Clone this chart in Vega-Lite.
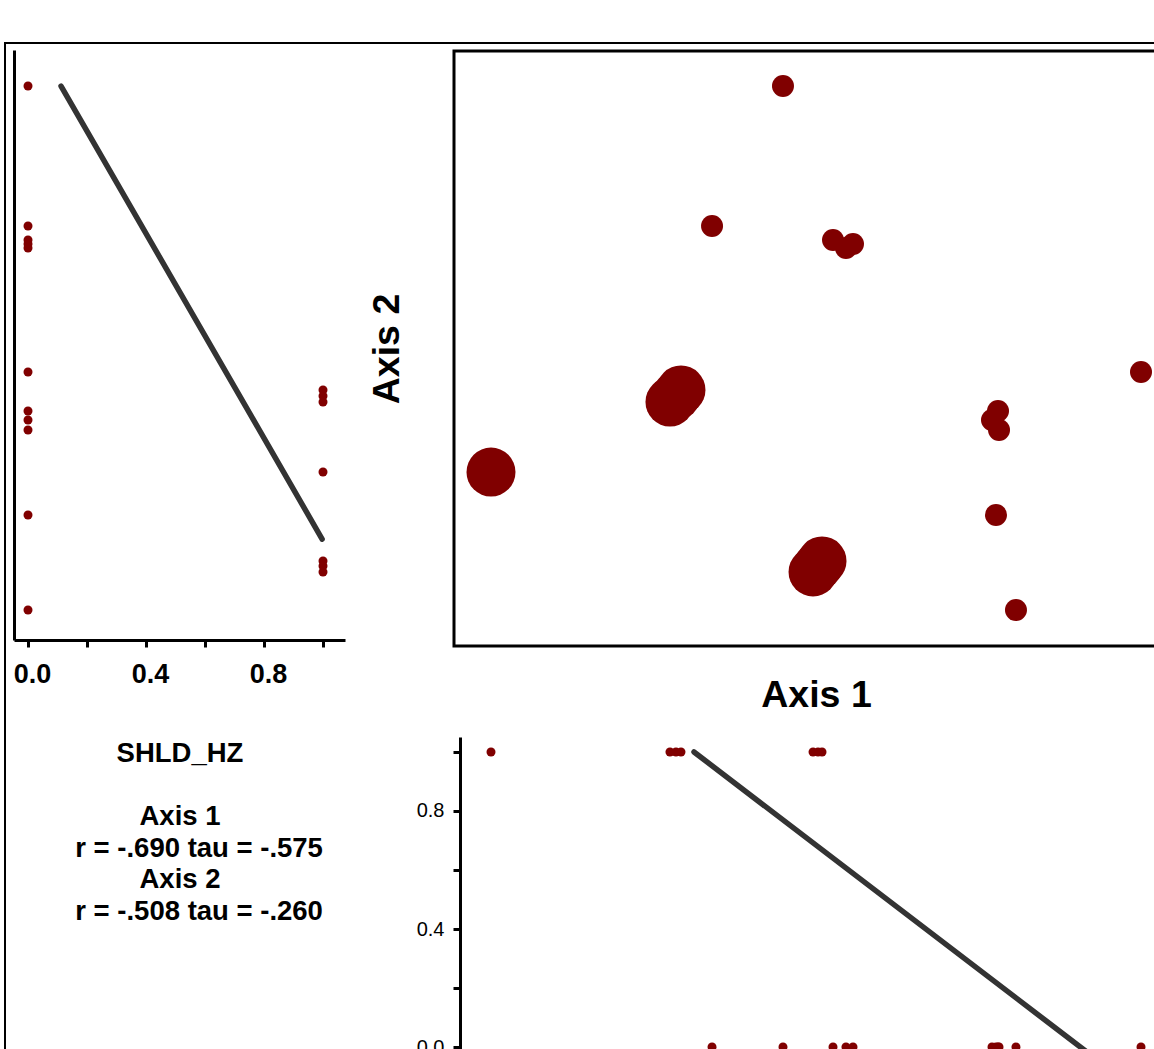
{
  "$schema": "https://vega.github.io/schema/vega-lite/v6.json",
  "width": 1209,
  "height": 1066,
  "autosize": {"type": "none"},
  "padding": {"left": 5, "top": 43, "right": -60, "bottom": -60},
  "background": "white",
  "config": {
    "view": {"stroke": "black", "strokeWidth": 2},
    "font": "Liberation Sans",
    "axis": {"domainColor": "black", "tickColor": "black", "labelColor": "black", "titleColor": "black", "grid": false, "labelFont": "Liberation Sans", "titleFont": "Liberation Sans", "labelFlush": false}
  },
  "datasets": {
    "sites": [
      {"site": 1, "a1": 45.44, "a2": 94.12, "shld": 0},
      {"site": 2, "a1": 35.64, "a2": 70.59, "shld": 0},
      {"site": 3, "a1": 52.35, "a2": 68.24, "shld": 0},
      {"site": 4, "a1": 55.11, "a2": 67.56, "shld": 0},
      {"site": 5, "a1": 54.14, "a2": 66.89, "shld": 0},
      {"site": 6, "a1": 94.89, "a2": 46.05, "shld": 0},
      {"site": 7, "a1": 75.14, "a2": 39.50, "shld": 0},
      {"site": 8, "a1": 74.31, "a2": 37.98, "shld": 0},
      {"site": 9, "a1": 75.28, "a2": 36.30, "shld": 0},
      {"site": 10, "a1": 74.86, "a2": 22.02, "shld": 0},
      {"site": 11, "a1": 77.62, "a2": 6.05, "shld": 0},
      {"site": 12, "a1": 31.35, "a2": 43.03, "shld": 1},
      {"site": 13, "a1": 30.66, "a2": 42.02, "shld": 1},
      {"site": 14, "a1": 29.83, "a2": 41.01, "shld": 1},
      {"site": 15, "a1": 5.11, "a2": 29.24, "shld": 1},
      {"site": 16, "a1": 50.83, "a2": 14.29, "shld": 1},
      {"site": 17, "a1": 50.28, "a2": 13.45, "shld": 1},
      {"site": 18, "a1": 49.59, "a2": 12.44, "shld": 1}
    ],
    "leftLine": [
      {"shld": 0.112, "a2": 94.1},
      {"shld": 0.997, "a2": 17.98}
    ],
    "bottomLine": [
      {"a1": 33.15, "shld": 1.0},
      {"a1": 94.89, "shld": -0.157}
    ]
  },
  "layer": [
    {
      "layer": [
        {
          "data": {"name": "sites"},
          "mark": {"type": "circle", "color": "#800000", "opacity": 1, "size": 81},
          "encoding": {
            "x": {
              "field": "shld", "type": "quantitative",
              "scale": {"domain": [-0.04746, 1.07458], "range": [9, 340], "zero": false, "nice": false},
              "axis": {
                "orient": "bottom", "offset": -469,
                "values": [0, 0.2, 0.4, 0.6, 0.8, 1],
                "labelExpr": "abs(datum.value) < 0.001 || abs(datum.value - 0.4) < 0.001 || abs(datum.value - 0.8) < 0.001 ? format(datum.value, '.1f') : ''",
                "tickSize": 7, "tickWidth": 3, "domainWidth": 3,
                "labelFontSize": 27, "labelFontWeight": "bold", "labelPadding": 14, "labelOffset": 4,
                "title": ["SHLD_HZ", "\u200b\u00a0", "Axis 1", "\u200b\u00a0\u00a0\u00a0\u00a0\u00a0r = -.690 tau = -.575", "Axis 2", "\u200b\u00a0\u00a0\u00a0\u00a0\u00a0r = -.508 tau = -.260"],
                "titleFontSize": 27.5, "titleFontWeight": "bold", "titleLineHeight": 31.7, "titlePadding": 52
              }
            },
            "y": {
              "field": "a2", "type": "quantitative",
              "scale": {"domain": [1.0084, 100.168], "range": [597, 7], "zero": false, "nice": false},
              "axis": {"orient": "left", "offset": -9, "ticks": false, "labels": false, "title": null, "domainWidth": 3}
            }
          }
        },
        {
          "data": {"name": "leftLine"},
          "mark": {"type": "line", "color": "#333333", "strokeWidth": 5.5, "strokeCap": "round"},
          "encoding": {
            "x": {"field": "shld", "type": "quantitative"},
            "y": {"field": "a2", "type": "quantitative"}
          }
        }
      ]
    },
    {
      "layer": [
        {
          "data": {"values": [{}]},
          "mark": {"type": "rect", "fill": "transparent", "stroke": "black", "strokeWidth": 3},
          "encoding": {
            "x": {"datum": 0, "type": "quantitative"},
            "x2": {"datum": 100},
            "y": {"datum": 0, "type": "quantitative"},
            "y2": {"datum": 100}
          }
        },
        {
          "data": {"name": "sites"},
          "mark": {"type": "circle", "color": "#800000", "opacity": 1},
          "encoding": {
            "x": {
              "field": "a1", "type": "quantitative",
              "scale": {"domain": [0, 100], "range": [449, 1173], "zero": false, "nice": false},
              "axis": {"orient": "bottom", "offset": -463, "domain": false, "ticks": false, "labels": false, "title": "Axis 1", "titleFontSize": 37.5, "titleFontWeight": "bold", "titlePadding": 30}
            },
            "y": {
              "field": "a2", "type": "quantitative",
              "scale": {"domain": [0, 100], "range": [603, 8], "zero": false, "nice": false},
              "axis": {"orient": "left", "offset": -449, "domain": false, "ticks": false, "labels": false, "title": "Axis 2", "titleFontSize": 37.5, "titleFontWeight": "bold", "titlePadding": 48}
            },
            "size": {
              "field": "shld", "type": "quantitative",
              "scale": {"domain": [0, 1], "range": [484, 2401], "zero": false},
              "legend": null
            }
          }
        }
      ]
    },
    {
      "layer": [
        {
          "data": {"name": "sites"},
          "mark": {"type": "circle", "color": "#800000", "opacity": 1, "size": 81},
          "encoding": {
            "x": {
              "field": "a1", "type": "quantitative",
              "scale": {"domain": [0.8287, 100], "range": [455, 1173], "zero": false, "nice": false},
              "axis": null
            },
            "y": {
              "field": "shld", "type": "quantitative",
              "scale": {"domain": [-0.0508, 1.0508], "range": [1019, 694], "zero": false, "nice": false},
              "axis": {
                "orient": "left", "offset": -455,
                "values": [0, 0.2, 0.4, 0.6, 0.8, 1],
                "labelExpr": "abs(datum.value) < 0.001 || abs(datum.value - 0.4) < 0.001 || abs(datum.value - 0.8) < 0.001 ? format(datum.value, '.1f') : ''",
                "tickSize": 7, "tickWidth": 3, "domainWidth": 3,
                "labelFontSize": 20, "labelFontWeight": "normal", "labelPadding": 9,
                "title": null
              }
            }
          }
        },
        {
          "data": {"name": "bottomLine"},
          "mark": {"type": "line", "color": "#333333", "strokeWidth": 5.5, "strokeCap": "round"},
          "encoding": {
            "x": {"field": "a1", "type": "quantitative"},
            "y": {"field": "shld", "type": "quantitative"}
          }
        }
      ]
    }
  ],
  "resolve": {"scale": {"x": "independent", "y": "independent", "size": "independent"}}
}
